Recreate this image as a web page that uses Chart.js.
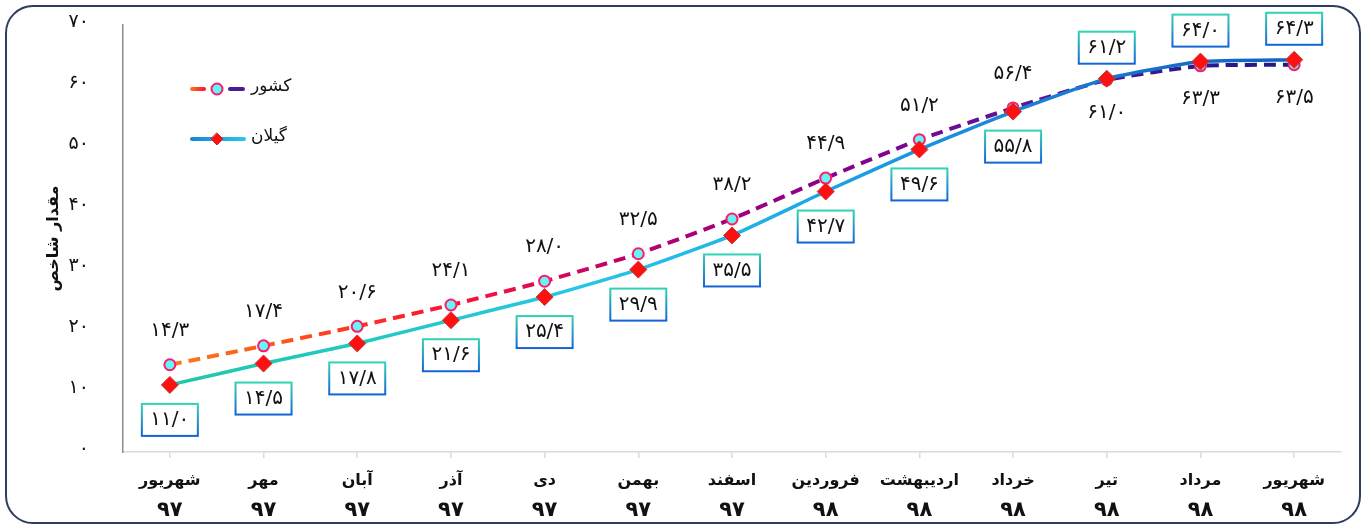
<!DOCTYPE html>
<html lang="fa">
<head>
<meta charset="utf-8">
<script src="https://cdn.jsdelivr.net/npm/chart.js@4/dist/chart.umd.min.js"></script>
<style>
  html, body { margin: 0; padding: 0; background: #fff; }
  #wrap { position: relative; width: 1370px; height: 529px; }
  #frame { position: absolute; left: 5px; top: 5px; width: 1356px; height: 519px;
           border: 2px solid #2c3e5c; border-radius: 28px; box-sizing: border-box; pointer-events: none; }
  canvas { position: absolute; left: 0; top: 0; }
</style>
</head>
<body>
<div id="wrap">
  <canvas id="c" width="1370" height="529"></canvas>
  <div id="frame"></div>
</div>
<script>
// ---- data ----
const monthNames = ['شهریور','مهر','آبان','آذر','دی','بهمن','اسفند','فروردین','اردیبهشت','خرداد','تیر','مرداد','شهریور'];
const yearNames  = ['۹۷','۹۷','۹۷','۹۷','۹۷','۹۷','۹۷','۹۸','۹۸','۹۸','۹۸','۹۸','۹۸'];
const countryValues = [14.3, 17.4, 20.6, 24.1, 28.0, 32.5, 38.2, 44.9, 51.2, 56.4, 61.0, 63.3, 63.5];
const gilanValues   = [11.0, 14.5, 17.8, 21.6, 25.4, 29.9, 35.5, 42.7, 49.6, 55.8, 61.2, 64.0, 64.3];
const countryName = 'کشور';
const gilanName = 'گیلان';
const yTitle = 'مقدار شاخص';
const yTickValues = [0, 10, 20, 30, 40, 50, 60, 70];

const FONT = '"DejaVu Sans", sans-serif';
const faDigits = '۰۱۲۳۴۵۶۷۸۹';
function toFa(s) { return String(s).replace(/[0-9]/g, d => faDigits[+d]); }
function fmt(v) { return toFa(v.toFixed(1).replace('.', '/')); }
const flipIndex = 10; // from this category on, labels swap sides

const labels = monthNames.map((m, i) => [m, yearNames[i]]);

function hGrad(chart, stops) {
  const a = chart.chartArea;
  if (!a) return stops[0][1];
  const xs = chart.scales.x;
  const x0 = xs.getPixelForValue(0), x1 = xs.getPixelForValue(labels.length - 1);
  const g = chart.ctx.createLinearGradient(x0, 0, x1, 0);
  stops.forEach(s => g.addColorStop(s[0], s[1]));
  return g;
}
const countryStops = [[0,'#ff7a1a'],[0.12,'#ff4a1a'],[0.22,'#ff1a2a'],[0.3,'#e8104a'],[0.4,'#c0006a'],[0.5,'#a00080'],[0.6,'#86008c'],[0.7,'#6c0c98'],[0.8,'#521a98'],[0.9,'#2e1a90'],[1,'#1a1a86']];
const gilanStops = [[0,'#20c8a6'],[0.2,'#22c8c8'],[0.35,'#28c6e6'],[0.5,'#20b6e8'],[0.62,'#1a9ce2'],[0.75,'#1a84d8'],[0.88,'#1470cc'],[1,'#1060c4']];

const decorPlugin = {
  id: 'decor',
  afterDraw(chart) {
    const ctx = chart.ctx;
    const xs = chart.scales.x;
    ctx.save();
    ctx.textAlign = 'center';
    ctx.textBaseline = 'middle';
    ctx.fillStyle = '#111';
    labels.forEach((lab, i) => {
      const x = xs.getPixelForValue(i);
      ctx.font = 'bold 16px ' + FONT;
      ctx.fillText(lab[0], x, 481);
      ctx.font = 'bold 21px ' + FONT;
      ctx.fillText(lab[1], x, 511);
    });
    ctx.restore();
  },
  afterDatasetsDraw(chart) {
    const ctx = chart.ctx;
    const gMeta = chart.getDatasetMeta(0);
    const cMeta = chart.getDatasetMeta(1);
    ctx.save();
    ctx.textAlign = 'center';
    ctx.textBaseline = 'middle';
    ctx.font = '20px ' + FONT;
    ctx.fillStyle = '#111';
    cMeta.data.forEach((pt, i) => {
      const above = i < flipIndex;
      ctx.fillText(fmt(countryValues[i]), pt.x, pt.y + (above ? -34 : 33));
    });
    gMeta.data.forEach((pt, i) => {
      const below = i < flipIndex;
      const cx = pt.x, cy = pt.y + (below ? 35 : -31);
      const w = 56, h = 32;
      const g = ctx.createLinearGradient(0, cy - h / 2, 0, cy + h / 2);
      g.addColorStop(0, '#30d4b4');
      g.addColorStop(1, '#1464d6');
      ctx.fillStyle = '#fff';
      ctx.fillRect(cx - w / 2, cy - h / 2, w, h);
      ctx.lineWidth = 2;
      ctx.strokeStyle = g;
      ctx.strokeRect(cx - w / 2, cy - h / 2, w, h);
      ctx.fillStyle = '#111';
      ctx.font = '20px ' + FONT;
      ctx.fillText(fmt(gilanValues[i]), cx, cy);
    });
    // legend
    const lx0 = 190, lx1 = 244, lxm = 217;
    let y = 89;
    ctx.lineCap = 'round';
    ctx.lineWidth = 4;
    let g1 = ctx.createLinearGradient(lx0, 0, 204, 0);
    g1.addColorStop(0, '#ff7a1a'); g1.addColorStop(1, '#ff1a2a');
    ctx.strokeStyle = g1;
    ctx.beginPath(); ctx.moveTo(lx0 + 2, y); ctx.lineTo(204, y); ctx.stroke();
    ctx.strokeStyle = '#4a1a98';
    ctx.beginPath(); ctx.moveTo(230, y); ctx.lineTo(lx1 - 1, y); ctx.stroke();
    ctx.beginPath(); ctx.arc(lxm, y, 5.5, 0, Math.PI * 2);
    ctx.fillStyle = '#66f4f4'; ctx.fill();
    ctx.lineWidth = 2; ctx.strokeStyle = '#ff1a6a'; ctx.stroke();
    ctx.fillStyle = '#111';
    ctx.font = '17px ' + FONT;
    ctx.textAlign = 'left';
    ctx.fillText(countryName, 251, y - 2);
    y = 139;
    ctx.lineWidth = 4;
    let g2 = ctx.createLinearGradient(lx0, 0, lx1, 0);
    g2.addColorStop(0, '#1a84d8'); g2.addColorStop(1, '#28c6e6');
    ctx.strokeStyle = g2;
    ctx.beginPath(); ctx.moveTo(lx0 + 2, y); ctx.lineTo(lx1, y); ctx.stroke();
    ctx.beginPath();
    ctx.moveTo(lxm, y - 6); ctx.lineTo(lxm + 6, y); ctx.lineTo(lxm, y + 6); ctx.lineTo(lxm - 6, y); ctx.closePath();
    ctx.fillStyle = '#ff1010'; ctx.fill();
    ctx.lineWidth = 1; ctx.strokeStyle = '#c03030'; ctx.stroke();
    ctx.fillStyle = '#111';
    ctx.fillText(gilanName, 251, y - 2);
    ctx.restore();
  }
};

new Chart(document.getElementById('c'), {
  type: 'line',
  data: {
    labels: labels,
    datasets: [
      {
        label: gilanName,
        data: gilanValues,
        borderColor: ctx => hGrad(ctx.chart, gilanStops),
        borderWidth: 3.5,
        tension: 0.15,
        pointStyle: 'rectRot',
        pointRadius: 8.5,
        pointBackgroundColor: '#ff1010',
        pointBorderColor: '#c03838',
        pointBorderWidth: 1,
        order: 0
      },
      {
        label: countryName,
        data: countryValues,
        borderColor: ctx => hGrad(ctx.chart, countryStops),
        borderWidth: 4,
        borderDash: [12, 7],
        tension: 0.15,
        pointStyle: 'circle',
        pointRadius: 5.5,
        pointBackgroundColor: '#66f4f4',
        pointBorderColor: '#ff1a6a',
        pointBorderWidth: 2,
        order: 1
      }
    ]
  },
  options: {
    responsive: false,
    animation: false,
    layout: { padding: { left: 0, right: 29, top: 25, bottom: 0 } },
    plugins: { legend: { display: false }, tooltip: { enabled: false } },
    scales: {
      x: {
        offset: true,
        grid: { display: true, drawOnChartArea: false, offset: false, tickLength: 6, color: '#d9d9d9', lineWidth: 1.5 },
        border: { display: true, color: '#d9d9d9', width: 1.5 },
        ticks: { display: false, autoSkip: false },
        afterFit: s => { s.height = 77; s.paddingLeft = 0; s.paddingRight = 0; }
      },
      y: {
        min: 0, max: 70,
        afterBuildTicks: s => { s.ticks = yTickValues.map(v => ({ value: v })); },
        grid: { display: false },
        border: { display: true, color: '#8c8c8c', width: 1.5 },
        ticks: { color: '#111', font: { family: FONT, size: 19 }, padding: 26, labelOffset: -3, callback: v => toFa(v) },
        title: { display: true, text: yTitle, color: '#111', font: { family: FONT, size: 16, weight: 'bold' }, padding: { top: 44, bottom: 0 } },
        afterFit: s => { s.width = 123; s.paddingTop = 0; s.paddingBottom = 0; }
      }
    }
  },
  plugins: [decorPlugin]
});
</script>
</body>
</html>
